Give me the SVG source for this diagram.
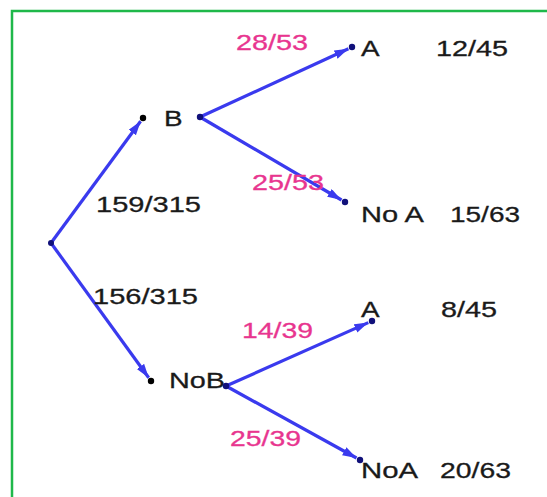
<svg xmlns="http://www.w3.org/2000/svg" width="547" height="497" viewBox="0 0 547 497">
<defs>
<marker id="arr" markerUnits="userSpaceOnUse" markerWidth="15" markerHeight="10" refX="14" refY="4.5" orient="auto">
<path d="M0,0 L14,4.5 L0,9 z" fill="#3a3aee"/>
</marker>
<style>
.t{font-family:"Liberation Sans",Arial,sans-serif;font-size:22px;fill:#1a1a1a;stroke:#1a1a1a;stroke-width:0.3;}
.p{font-family:"Liberation Sans",Arial,sans-serif;font-size:22px;fill:#e8358f;stroke:#e8358f;stroke-width:0.3;}
.e{stroke:#3a3aee;stroke-width:3.2;fill:none;marker-end:url(#arr);}
.d{fill:#10107a;}
.k{fill:#000;}
</style>
</defs>
<rect x="0" y="0" width="547" height="497" fill="#fff"/>
<path d="M12,497 L12,11 L547,11" fill="none" stroke="#1fb84a" stroke-width="2.5"/>
<g id="connectors">
<line class="e" x1="51" y1="243" x2="140.6" y2="121.2"/>
<line class="e" x1="51" y1="243" x2="148.7" y2="377.8"/>
<line class="e" x1="200" y1="117" x2="348.4" y2="48.7"/>
<line class="e" x1="200" y1="117" x2="341.5" y2="200"/>
<line class="e" x1="226" y1="386" x2="368.3" y2="322.6"/>
<line class="e" x1="226" y1="386" x2="356.5" y2="458"/>
</g>
<g id="root"><circle class="d" cx="51" cy="243" r="3"/></g>
<g id="nodeB">
<circle class="k" cx="143" cy="118" r="3.2"/>
<text class="t" x="164" y="126" textLength="18.6" lengthAdjust="spacingAndGlyphs">B</text>
<circle class="d" cx="200" cy="117" r="3.2"/>
</g>
<g id="nodeNoB">
<circle class="k" cx="151" cy="381" r="3.2"/>
<text class="t" x="169" y="388" textLength="56" lengthAdjust="spacingAndGlyphs">NoB</text>
<circle class="d" cx="226" cy="386" r="3.2"/>
</g>
<g id="nodeBA">
<circle class="d" cx="352" cy="47" r="3.2"/>
<text class="t" x="361" y="56" textLength="18.6" lengthAdjust="spacingAndGlyphs">A</text>
<text class="t" x="436" y="56" textLength="72" lengthAdjust="spacingAndGlyphs">12/45</text>
</g>
<g id="nodeBNoA">
<circle class="d" cx="345" cy="202" r="3.2"/>
<text class="t" x="361" y="222" textLength="63" lengthAdjust="spacingAndGlyphs">No A</text>
<text class="t" x="450" y="222" textLength="70" lengthAdjust="spacingAndGlyphs">15/63</text>
</g>
<g id="nodeNoBA">
<circle class="d" cx="372" cy="321" r="3.2"/>
<text class="t" x="361" y="317" textLength="18.6" lengthAdjust="spacingAndGlyphs">A</text>
<text class="t" x="441" y="317" textLength="56" lengthAdjust="spacingAndGlyphs">8/45</text>
</g>
<g id="nodeNoBNoA">
<circle class="d" cx="360" cy="460" r="3.2"/>
<text class="t" x="361" y="478" textLength="57" lengthAdjust="spacingAndGlyphs">NoA</text>
<text class="t" x="440" y="478" textLength="71" lengthAdjust="spacingAndGlyphs">20/63</text>
</g>
<g id="labels">
<text class="t" x="96" y="212" textLength="105" lengthAdjust="spacingAndGlyphs">159/315</text>
<text class="t" x="93" y="304" textLength="105" lengthAdjust="spacingAndGlyphs">156/315</text>
<text class="p" x="236" y="50" textLength="72" lengthAdjust="spacingAndGlyphs">28/53</text>
<text class="p" x="252" y="190" textLength="72" lengthAdjust="spacingAndGlyphs">25/53</text>
<text class="p" x="242" y="338" textLength="71" lengthAdjust="spacingAndGlyphs">14/39</text>
<text class="p" x="230" y="446" textLength="71" lengthAdjust="spacingAndGlyphs">25/39</text>
</g>
</svg>
